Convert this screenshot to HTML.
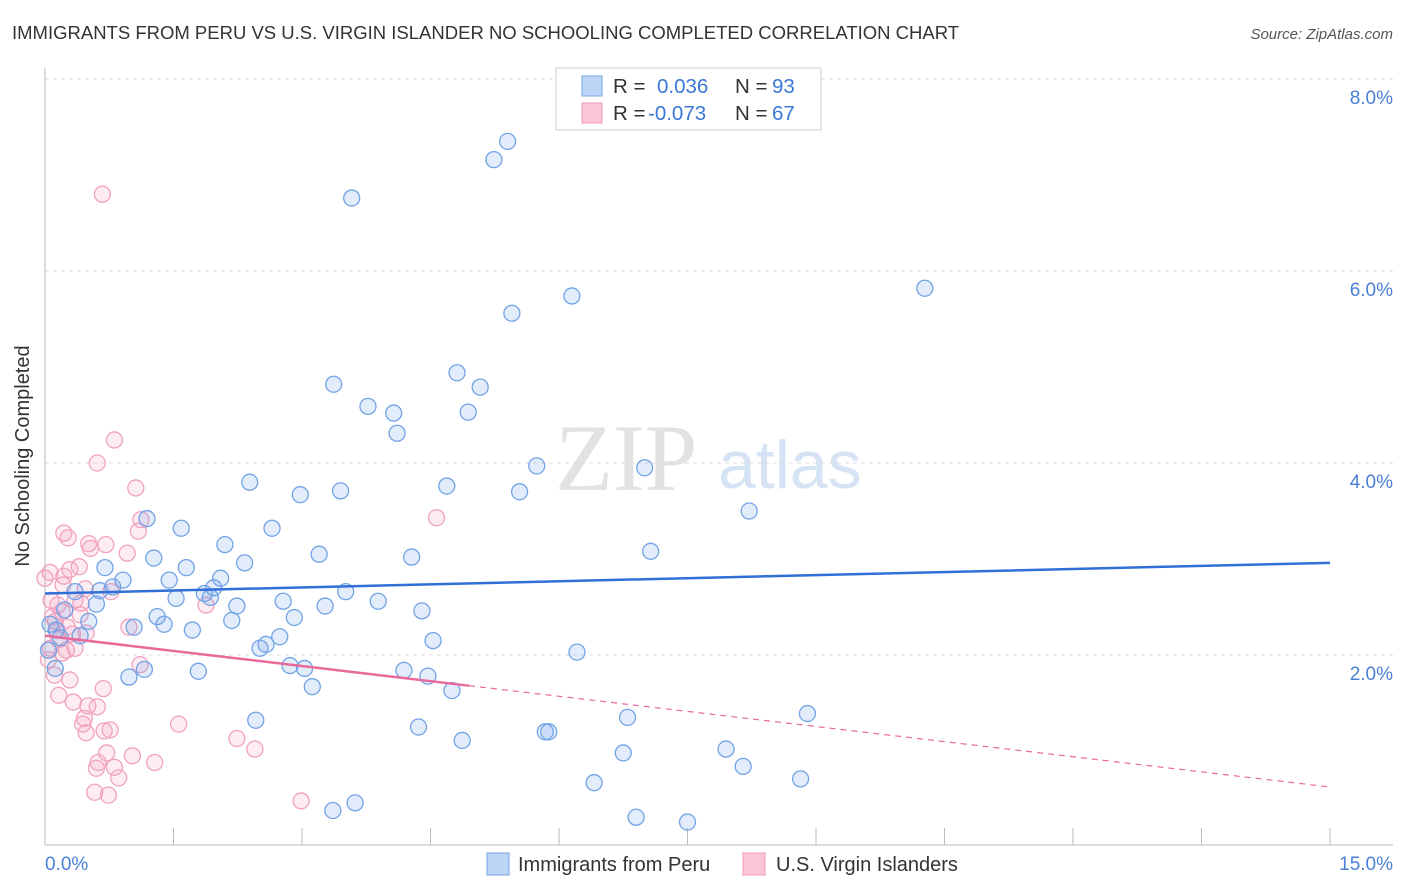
<!DOCTYPE html>
<html><head><meta charset="utf-8">
<style>
body{margin:0;background:#fff;font-family:"Liberation Sans",sans-serif;}
svg{display:block}
</style></head>
<body>
<svg id="chart" width="1406" height="892" viewBox="0 0 1406 892">
<text x="12" y="39" font-size="18.5" fill="#333">IMMIGRANTS FROM PERU VS U.S. VIRGIN ISLANDER NO SCHOOLING COMPLETED CORRELATION CHART</text>
<text x="1393" y="39" font-size="15" font-style="italic" fill="#555" text-anchor="end">Source: ZipAtlas.com</text>
<g>
<text x="555" y="490" font-family="Liberation Serif,serif" font-size="95" fill="#e2e2e2">ZIP</text>
<text x="718" y="488" font-size="68" fill="#d5e3f5">atlas</text>
</g>
<g id="grid"></g>
<g id="axes"></g>
<g id="marks"></g>
<text x="29" y="456" font-size="20" fill="#333" text-anchor="middle" transform="rotate(-90 29 456)">No Schooling Completed</text>
<g>
<rect x="556" y="68" width="265" height="62" fill="#fff" stroke="#ccc"/>
<rect x="582" y="76" width="20" height="20" fill="#bcd4f5" stroke="#7aa6e6"/>
<rect x="582" y="103" width="20" height="20" fill="#fac6d6" stroke="#f09ab8"/>
<text x="613" y="93" font-size="20.5" fill="#333">R = </text><text x="657" y="93" font-size="20.5" fill="#3a78d8">0.036</text>
<text x="735" y="93" font-size="20.5" fill="#333">N = </text><text x="772" y="93" font-size="20.5" fill="#3a78d8">93</text>
<text x="613" y="120" font-size="20.5" fill="#333">R = </text><text x="648" y="120" font-size="20.5" fill="#3a78d8">-0.073</text>
<text x="735" y="120" font-size="20.5" fill="#333">N = </text><text x="772" y="120" font-size="20.5" fill="#3a78d8">67</text>
</g>
<g>
<rect x="487" y="853" width="22" height="22" fill="#bcd4f5" stroke="#7aa6e6"/>
<text x="518" y="871" font-size="20" fill="#333">Immigrants from Peru</text>
<rect x="743" y="853" width="22" height="22" fill="#fac6d6" stroke="#f09ab8"/>
<text x="776" y="871" font-size="20" fill="#333">U.S. Virgin Islanders</text>
</g>
</svg>
<script>
const yTicks=[2,4,6,8];
const yTickLabels=["2.0%","4.0%","6.0%","8.0%"];
const xTicks=[0,1.5,3,4.5,6,7.5,9,10.5,12,13.5,15];
const peruX=[5.40,5.24,3.58,10.27,6.15,5.45,3.37,4.81,5.08,3.77,4.07,4.94,4.11,5.74,7.00,2.39,4.69,2.98,3.45,5.54,8.22,1.19,1.59,2.65,2.10,3.20,4.28,7.07,1.27,2.33,0.70,1.65,0.91,1.45,2.05,0.79,0.35,0.64,1.97,1.86,1.53,3.51,1.93,0.60,2.78,3.89,2.24,3.27,4.40,1.31,1.39,2.18,2.91,0.51,1.04,1.72,0.41,2.74,2.58,2.51,4.53,0.13,0.18,6.21,2.86,3.03,4.19,1.79,1.16,0.98,4.47,3.12,4.75,2.46,6.80,8.90,4.36,5.84,5.88,4.87,7.95,6.75,8.15,8.82,6.41,3.62,3.36,6.90,7.50,0.12,0.06,0.23,0.04];
const peruY=[7.35,7.16,6.76,5.82,5.74,5.56,4.82,4.94,4.79,4.59,4.52,4.53,4.31,3.97,3.95,3.80,3.76,3.67,3.71,3.70,3.50,3.42,3.32,3.32,3.15,3.05,3.02,3.08,3.01,2.96,2.91,2.91,2.78,2.78,2.80,2.71,2.66,2.67,2.70,2.64,2.59,2.66,2.60,2.53,2.56,2.56,2.51,2.51,2.46,2.40,2.32,2.36,2.39,2.35,2.29,2.26,2.20,2.19,2.11,2.07,2.15,2.26,2.18,2.03,1.89,1.86,1.84,1.83,1.85,1.77,1.78,1.67,1.63,1.32,1.35,1.39,1.25,1.20,1.20,1.11,1.02,0.98,0.84,0.71,0.67,0.46,0.38,0.31,0.26,1.86,2.32,2.47,2.05];
const usviX=[0.67,0.81,0.61,1.06,4.57,1.12,1.09,0.22,0.27,0.51,0.71,0.96,0.06,0.29,0.40,0.22,0.47,0.77,0.35,0.42,0.15,0.20,0.09,0.98,0.12,0.26,0.32,0.16,0.48,0.06,0.35,0.20,1.11,0.11,0.29,0.68,0.16,0.33,0.50,0.61,0.46,0.44,0.76,0.48,1.56,0.69,2.24,2.45,0.72,1.02,0.62,0.60,1.28,0.81,0.86,0.58,0.74,2.99,1.88,0.14,0.04,0.07,0.21,0.00,0.53,0.41,0.25];
const usviY=[6.80,4.24,4.00,3.74,3.43,3.41,3.29,3.27,3.22,3.16,3.15,3.06,2.86,2.89,2.92,2.82,2.69,2.66,2.57,2.54,2.52,2.45,2.40,2.29,2.35,2.29,2.22,2.16,2.23,2.07,2.07,2.02,1.90,1.79,1.74,1.65,1.58,1.51,1.47,1.46,1.34,1.28,1.22,1.19,1.28,1.21,1.13,1.02,0.98,0.95,0.88,0.82,0.88,0.83,0.72,0.57,0.54,0.48,2.52,2.26,1.95,2.57,2.73,2.80,3.11,2.42,2.05];
const peruTrend=[2.64,2.96];
const usviTrend=[2.20,0.625];
const usviSolidEnd=4.95;

const NS="http://www.w3.org/2000/svg";
const X=v=>45+v/15*1285;
const Y=v=>847-v*96;
function mk(tag,attrs,parent){const e=document.createElementNS(NS,tag);for(const k in attrs)e.setAttribute(k,attrs[k]);parent.appendChild(e);return e;}
const grid=document.getElementById('grid'),axes=document.getElementById('axes'),marks=document.getElementById('marks');
yTicks.forEach((t,i)=>{
  const l=mk('line',{x1:45,x2:1393,y1:Y(t),y2:Y(t),stroke:'#dcdcdc','stroke-dasharray':'4,4'},grid);
  
  
  const tx=mk('text',{x:1393,y:Y(t)+25,'font-size':19,fill:'#4a80d6','text-anchor':'end'},axes);
  tx.textContent=yTickLabels[i];
  
  
});
const al=mk('line',{x1:45,x2:45,y1:68,y2:845,stroke:'#bbb'},axes);


const bl=mk('line',{x1:45,x2:1393,y1:845,y2:845,stroke:'#bbb'},axes);


xTicks.forEach(t=>{
  const tk=mk('line',{x1:X(t),x2:X(t),y1:828,y2:845,stroke:'#bbb'},axes);
  
  
});
const x0=mk('text',{x:45,y:870,'font-size':19,fill:'#4a80d6'},axes);x0.textContent='0.0%';


const x1=mk('text',{x:1393,y:870,'font-size':19,fill:'#4a80d6','text-anchor':'end'},axes);x1.textContent='15.0%';



usviX.forEach((v,i)=>{
  const c=mk('circle',{cx:X(v),cy:Y(usviY[i]),r:8,fill:'rgba(244,160,190,0.2)',stroke:'#f0a2be','stroke-width':1.3},marks);
  
  
});
peruX.forEach((v,i)=>{
  const c=mk('circle',{cx:X(v),cy:Y(peruY[i]),r:8,fill:'rgba(110,160,232,0.2)',stroke:'#72a3e6','stroke-width':1.3},marks);
  
  
});
const pt=mk('line',{x1:X(0),y1:Y(peruTrend[0]),x2:X(15),y2:Y(peruTrend[1]),stroke:'#2f6fd6','stroke-width':2.5},marks);


const uAt=v=>usviTrend[0]+(usviTrend[1]-usviTrend[0])*v/15;
const us=mk('line',{x1:X(0),y1:Y(usviTrend[0]),x2:X(usviSolidEnd),y2:Y(uAt(usviSolidEnd)),stroke:'#e8699a','stroke-width':2.5},marks);


const ud=mk('line',{x1:X(usviSolidEnd),y1:Y(uAt(usviSolidEnd)),x2:X(15),y2:Y(usviTrend[1]),stroke:'#e8699a','stroke-width':1.2,'stroke-dasharray':'6,5'},marks);


</script>
</body></html>
